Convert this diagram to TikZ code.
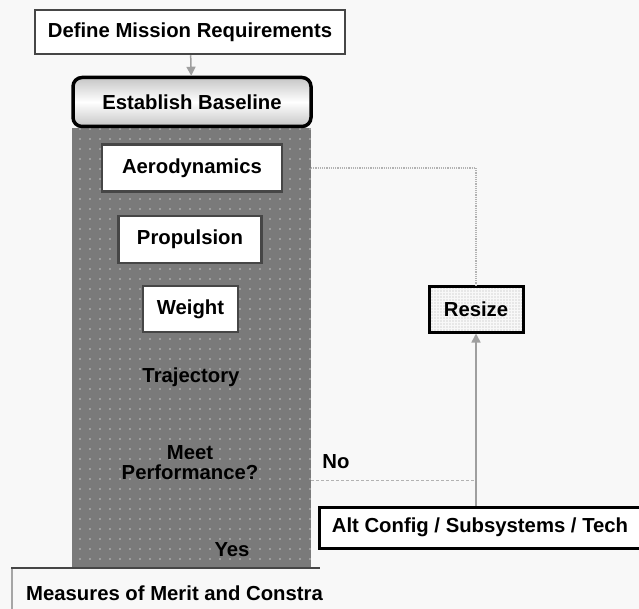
\documentclass[tikz,border=0pt]{standalone}
\usepackage{fontspec}
\setmainfont{Liberation Sans}
\usetikzlibrary{arrows.meta,patterns.meta}
\definecolor{bgpaper}{RGB}{248,248,248}
\definecolor{panelgray}{RGB}{122,122,122}
\definecolor{boxedge}{RGB}{70,70,70}
\begin{document}
\begin{tikzpicture}[
    x=1pt, y=-1pt,
    every node/.style={font=\bfseries\fontsize{20.3}{22}\selectfont, inner sep=0pt},
    plain/.style={rectangle, draw=boxedge, line width=2.5pt, fill=white},
    bold/.style={rectangle, draw=black, line width=3pt, fill=white},
    rounded/.style={rectangle, rounded corners=9pt, draw=black, line width=3.5pt,
      top color=gray!45, bottom color=gray!45, middle color=white},
    feed/.style={-{Triangle[length=9pt,width=9pt]}, draw=gray!75, line width=1.5pt},
    loop/.style={draw=gray!60, line width=1.2pt, densely dotted},
    nobranch/.style={draw=gray!60, line width=1pt, densely dashed}
  ]
  \clip (0,0) rectangle (639,609);
  \fill[bgpaper] (0,0) rectangle (639,609);

  % sizing loop panel
  \fill[panelgray] (72,128) rectangle (311,568);
  \fill[pattern={Dots[distance=10pt, radius=0.8pt]}, pattern color=gray!50] (72,128) rectangle (311,568);
  \coordinate (panelE) at (311,340);

  \node[plain, minimum width=310, minimum height=44] (req) at (190,32) {Define Mission Requirements};
  \node[rounded, minimum width=238, minimum height=49] (base) at (192,102) {Establish Baseline};

  \node[plain, minimum width=180, minimum height=47] (aero) at (192,168) {Aerodynamics};
  \node[plain, minimum width=143, minimum height=47] (prop) at (190,239.5) {Propulsion};
  \node[plain, minimum width=95, minimum height=46] (wt) at (190.5,309) {Weight};
  \node (traj) at (191,377) {Trajectory};
  \node[align=center, font=\bfseries\fontsize{20.3}{20}\selectfont] (meet) at (190,463) {Meet\\Performance?};
  \node (yes) at (232,550) {Yes};

  \node[rectangle, draw=black, line width=3pt, pattern={Dots[distance=3pt, radius=0.6pt]},
    pattern color=gray!60, minimum width=94, minimum height=45] (resize) at (476,309.5) {};
  \node at (resize) {Resize};
  \node[bold, minimum width=322, minimum height=41] (alt) at (480,527.5) {Alt Config / Subsystems / Tech};
  \node (no) at (336,462) {No};

  \node[anchor=west] (mom) at (26,593) {Measures of Merit and Constra};
  \draw[draw=gray!70, line width=1.5pt] (12,615) -- (12,568);
  \draw[draw=boxedge, line width=2.5pt] (11,568) -- (320,568);

  \draw[feed] (req) -- (base);
  \draw[loop] (panelE |- aero) -| (resize.north);
  \draw[feed] (alt.north -| resize) -- (resize.south);
  \draw[nobranch] (panelE |- 0,480) -- (resize |- 0,480);
\end{tikzpicture}
\end{document}
